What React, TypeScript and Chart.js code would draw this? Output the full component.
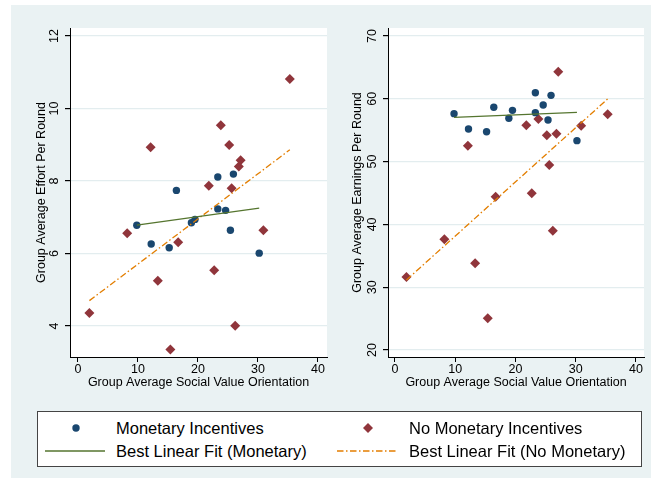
import React, { useEffect, useRef } from "react";
import { Chart, registerables } from "chart.js";

Chart.register(...registerables);

// ---------- data ----------
const xTicks = [0, 10, 20, 30, 40];
const effortTicks = [4, 6, 8, 10, 12];
const earningsTicks = [20, 30, 40, 50, 60, 70];

const monetarySVO = [9.8, 12.2, 15.2, 16.4, 18.9, 19.5, 23.3, 23.3, 24.6, 25.4, 25.9, 30.2];
const monetaryEffort = [6.78, 6.26, 6.16, 7.74, 6.85, 6.94, 8.11, 7.23, 7.19, 6.64, 8.19, 6.01];
const monetaryEarnings = [57.63, 55.19, 54.76, 58.64, 56.89, 58.16, 60.97, 57.79, 59.01, 56.62, 60.55, 53.33];

const noMonetarySVO = [1.9, 8.2, 12.1, 13.3, 15.4, 16.7, 21.8, 22.7, 23.8, 25.2, 25.6, 26.2, 26.8, 27.1, 30.9, 35.3];
const noMonetaryEffort = [4.36, 6.56, 8.93, 5.25, 3.35, 6.31, 7.87, 5.54, 9.54, 8.99, 7.8, 4.01, 8.4, 8.57, 6.64, 10.81];
const noMonetaryEarnings = [31.62, 37.63, 52.53, 33.8, 25.05, 44.41, 55.78, 44.95, 56.78, 54.19, 49.46, 39.0, 54.45, 64.32, 55.72, 57.53];

const fitMonetaryX = [9.8, 30.2];
const fitMonetaryEffort = [6.78, 7.25];
const fitMonetaryEarnings = [57.05, 57.85];
const fitNoMonetaryX = [1.9, 35.3];
const fitNoMonetaryEffort = [4.7, 8.86];
const fitNoMonetaryEarnings = [31.15, 59.97];

const xTitle = "Group Average Social Value Orientation";
const effortTitle = "Group Average Effort Per Round";
const earningsTitle = "Group Average Earnings Per Round";

const legendLabels = [
  "Monetary Incentives",
  "No Monetary Incentives",
  "Best Linear Fit (Monetary)",
  "Best Linear Fit (No Monetary)",
];

// ---------- style ----------
const FONT = '"Liberation Sans", Arial, sans-serif';
const BLUE = "#1a476f";
const RED = "#90353b";
const GREEN = "#55752f";
const ORANGE = "#e37e00";
const BG = "#eaf2f3";
const GRID = "#e3edef";
const DASH = [6.5, 2.5, 1.5, 2.5];

const zip = (xs: number[], ys: number[]) => xs.map((x, i) => ({ x, y: ys[i] }));

const panelPlugin = {
  id: "panelPlugin",
  beforeDraw(chart: any) {
    const { ctx, chartArea: a } = chart;
    ctx.save();
    ctx.fillStyle = "#ffffff";
    ctx.fillRect(a.left, a.top, a.right - a.left, a.bottom - a.top);
    ctx.restore();
  },
  afterDraw(chart: any) {
    const { ctx } = chart;
    const ys = chart.scales.y;
    ctx.save();
    ctx.font = `12.5px ${FONT}`;
    ctx.fillStyle = "#000";
    ctx.textAlign = "center";
    ctx.textBaseline = "middle";
    ys.ticks.forEach((t: any) => {
      const py = ys.getPixelForValue(t.value);
      ctx.save();
      ctx.translate(ys.right - 15.5, py);
      ctx.rotate(-Math.PI / 2);
      ctx.fillText(String(t.value), 0, 0);
      ctx.restore();
    });
    ctx.restore();
  },
};

type PanelProps = {
  left: number;
  width: number;
  yWidth: number;
  padRight: number;
  xMin: number;
  xMax: number;
  yMin: number;
  yMax: number;
  yTicks: number[];
  yTitle: string;
  yTitlePad: number;
  mon: number[];
  noMon: number[];
  fitMon: number[];
  fitNoMon: number[];
};

function Panel(p: PanelProps) {
  const ref = useRef<HTMLCanvasElement | null>(null);
  useEffect(() => {
    if (!ref.current) return;
    const chart = new Chart(ref.current, {
      type: "scatter",
      data: {
        datasets: [
          {
            label: legendLabels[2],
            data: zip(fitMonetaryX, p.fitMon),
            showLine: true,
            pointRadius: 0,
            borderColor: GREEN,
            borderWidth: 1.3,
          },
          {
            label: legendLabels[3],
            data: zip(fitNoMonetaryX, p.fitNoMon),
            showLine: true,
            pointRadius: 0,
            borderColor: ORANGE,
            borderWidth: 1.3,
            borderDash: DASH,
          },
          {
            label: legendLabels[0],
            data: zip(monetarySVO, p.mon),
            pointStyle: "circle",
            pointRadius: 3.7,
            pointBackgroundColor: BLUE,
            pointBorderWidth: 0,
          },
          {
            label: legendLabels[1],
            data: zip(noMonetarySVO, p.noMon),
            pointStyle: "rectRot",
            pointRadius: 5,
            pointBackgroundColor: RED,
            pointBorderWidth: 0,
          },
        ],
      },
      options: {
        animation: false,
        responsive: false,
        layout: { padding: { top: 23, right: p.padRight, bottom: 0, left: 0 } },
        plugins: { legend: { display: false }, tooltip: { enabled: false } },
        scales: {
          x: {
            type: "linear",
            min: p.xMin,
            max: p.xMax,
            afterBuildTicks: (s: any) => {
              s.ticks = xTicks.map((v) => ({ value: v }));
            },
            afterFit: (s: any) => {
              s.height = 43;
            },
            grid: {
              display: true,
              drawOnChartArea: false,
              drawTicks: true,
              tickLength: 5,
              tickColor: "#000",
            },
            border: { display: true, color: "#000", width: 1 },
            ticks: {
              padding: 0.5,
              color: "#000",
              font: { family: FONT, size: 12.5 },
              maxRotation: 0,
              autoSkip: false,
            },
            title: {
              display: true,
              text: xTitle,
              color: "#000",
              font: { family: FONT, size: 12.5 },
              padding: { top: 0, bottom: 9.5 },
            },
          },
          y: {
            type: "linear",
            min: p.yMin,
            max: p.yMax,
            afterBuildTicks: (s: any) => {
              s.ticks = p.yTicks.map((v) => ({ value: v }));
            },
            afterFit: (s: any) => {
              s.width = p.yWidth;
            },
            grid: {
              display: true,
              drawOnChartArea: true,
              drawTicks: true,
              tickLength: 5,
              color: GRID,
              tickColor: "#000",
              lineWidth: 1.2,
            },
            border: { display: true, color: "#000", width: 1 },
            ticks: { display: false },
            title: {
              display: true,
              text: p.yTitle,
              color: "#000",
              font: { family: FONT, size: 12.5 },
              padding: { top: p.yTitlePad, bottom: 0 },
            },
          },
        },
      },
      plugins: [panelPlugin],
    } as any);
    return () => chart.destroy();
  }, []);
  return (
    <canvas
      ref={ref}
      width={p.width}
      height={395}
      style={{ position: "absolute", left: p.left, top: 5, width: p.width, height: 395 }}
    />
  );
}

function Legend() {
  const text: React.CSSProperties = {
    position: "absolute",
    height: 20,
    lineHeight: "20px",
    fontFamily: FONT,
    fontSize: 16.5,
    color: "#000",
    whiteSpace: "nowrap",
  };
  const row1 = 428;
  const row2 = 451;
  return (
    <>
      <div
        style={{
          position: "absolute",
          left: 37,
          top: 411,
          width: 605,
          height: 56,
          boxSizing: "border-box",
          border: "1px solid #444",
          background: "#fff",
        }}
      />
      <svg style={{ position: "absolute", left: 0, top: 400 }} width={651} height={78}>
        <circle cx={76} cy={row1 - 400} r={3.7} fill={BLUE} />
        <polygon
          points={`368,${row1 - 405} 373,${row1 - 400} 368,${row1 - 395} 363,${row1 - 400}`}
          fill={RED}
        />
        <line x1={45} y1={row2 - 400} x2={105} y2={row2 - 400} stroke={GREEN} strokeWidth={1.4} />
        <line
          x1={337}
          y1={row2 - 400}
          x2={398}
          y2={row2 - 400}
          stroke={ORANGE}
          strokeWidth={1.4}
          strokeDasharray={DASH.join(" ")}
        />
      </svg>
      <div style={{ ...text, left: 116, top: row1 - 10 }}>{legendLabels[0]}</div>
      <div style={{ ...text, left: 409, top: row1 - 10 }}>{legendLabels[1]}</div>
      <div style={{ ...text, left: 116, top: row2 - 10 }}>{legendLabels[2]}</div>
      <div style={{ ...text, left: 409, top: row2 - 10 }}>{legendLabels[3]}</div>
    </>
  );
}

export default function App() {
  return (
    <div style={{ position: "absolute", left: 0, top: 0, width: 651, height: 478, background: "#fff", overflow: "hidden" }}>
      <div style={{ position: "absolute", left: 11, top: 5, width: 640, height: 473, background: BG }} />
      <Panel
        left={11}
        width={330}
        yWidth={59}
        padRight={14}
        xMin={-1.333}
        xMax={41.5}
        yMin={3.145}
        yMax={12.22}
        yTicks={effortTicks}
        yTitle={effortTitle}
        yTitlePad={23.5}
        mon={monetaryEffort}
        noMon={noMonetaryEffort}
        fitMon={fitMonetaryEffort}
        fitNoMon={fitNoMonetaryEffort}
      />
      <Panel
        left={330}
        width={321}
        yWidth={58}
        padRight={7}
        xMin={-1.16}
        xMax={41.33}
        yMin={18.885}
        yMax={71.27}
        yTicks={earningsTicks}
        yTitle={earningsTitle}
        yTitlePad={20.5}
        mon={monetaryEarnings}
        noMon={noMonetaryEarnings}
        fitMon={fitMonetaryEarnings}
        fitNoMon={fitNoMonetaryEarnings}
      />
      <Legend />
    </div>
  );
}
